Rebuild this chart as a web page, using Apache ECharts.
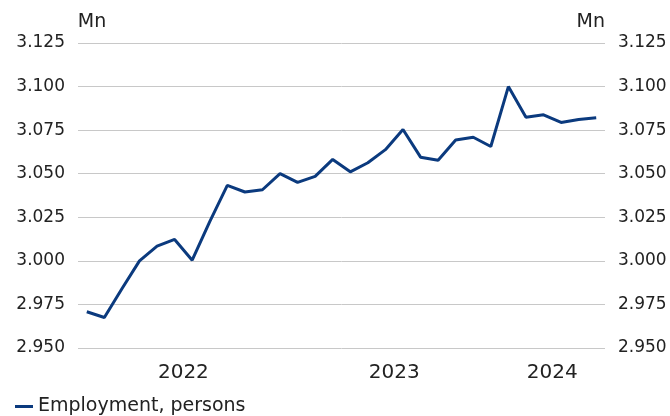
<!DOCTYPE html>
<html>
<head>
<meta charset="utf-8">
<script src="https://cdn.jsdelivr.net/npm/echarts@6/dist/echarts.min.js"></script>
<style>
  html, body { margin: 0; padding: 0; background: #fff; }
  #main { width: 670px; height: 416px; }
</style>
</head>
<body>
<div id="main"></div>
<script>
// monthly, Jan 2022 - Jun 2024
const months = [
  '2022-01', '2022-02', '2022-03', '2022-04', '2022-05', '2022-06',
  '2022-07', '2022-08', '2022-09', '2022-10', '2022-11', '2022-12',
  '2023-01', '2023-02', '2023-03', '2023-04', '2023-05', '2023-06',
  '2023-07', '2023-08', '2023-09', '2023-10', '2023-11', '2023-12',
  '2024-01', '2024-02', '2024-03', '2024-04', '2024-05', '2024-06'
];
const employment = [
  2.9708, 2.9675, 2.9840, 3.0000, 3.0084, 3.0123,
  3.0004, 3.0225, 3.0433, 3.0395, 3.0408, 3.0500,
  3.0450, 3.0485, 3.0582, 3.0511, 3.0563, 3.0638,
  3.0754, 3.0595, 3.0577, 3.0694, 3.0709, 3.0656,
  3.1000, 3.0824, 3.0838, 3.0794, 3.0811, 3.0821
];
const years = ['2022', '2023', '2024'];
const seriesName = 'Employment, persons';

// year labels sit in the middle of each year's months
const yearCenters = years.map(y => {
  const idx = months.map((m, i) => m.startsWith(y) ? i : -1).filter(i => i >= 0);
  return (idx[0] + idx[idx.length - 1]) / 2;
});

const font = 'DejaVu Sans';
const textColor = '#222';
const navy = '#0b3a7e';

const yAxisBase = {
  type: 'value',
  min: 2.95,
  max: 3.125,
  interval: 0.025,
  name: 'Mn',
  nameLocation: 'end',
  nameGap: 11,
  axisLine: { show: false },
  axisTick: { show: false },
  axisLabel: {
    color: textColor,
    fontFamily: font,
    fontSize: 17,
    margin: 13,
    formatter: v => v.toFixed(3)
  }
};

const chart = echarts.init(document.getElementById('main'));
chart.setOption({
  animation: false,
  grid: { left: 78, right: 65, top: 43, bottom: 68 },
  legend: {
    left: 10,
    top: 392,
    itemWidth: 18,
    itemHeight: 3,
    icon: 'rect',
    textStyle: { color: textColor, fontFamily: font, fontSize: 19 },
    data: [seriesName]
  },
  xAxis: {
    type: 'value',
    min: -0.5,
    max: months.length - 0.5,
    splitLine: { show: false },
    axisLine: { show: false },
    axisTick: { show: false },
    axisLabel: {
      customValues: yearCenters,
      color: textColor,
      fontFamily: font,
      fontSize: 20,
      margin: 15,
      formatter: v => years[yearCenters.indexOf(v)] || ''
    }
  },
  yAxis: [
    Object.assign({}, yAxisBase, {
      position: 'left',
      nameTextStyle: { color: textColor, fontFamily: font, fontSize: 19, align: 'left', padding: [0, 0, 0, -9] },
      splitLine: { show: true, lineStyle: { color: '#c8c8c8', width: 1 } }
    }),
    Object.assign({}, yAxisBase, {
      position: 'right',
      nameTextStyle: { color: textColor, fontFamily: font, fontSize: 19, align: 'right' },
      splitLine: { show: false }
    })
  ],
  series: [{
    name: seriesName,
    type: 'line',
    data: employment.map((v, i) => [i, v]),
    showSymbol: false,
    lineStyle: { color: navy, width: 3 },
    itemStyle: { color: navy }
  }]
});
</script>
</body>
</html>
